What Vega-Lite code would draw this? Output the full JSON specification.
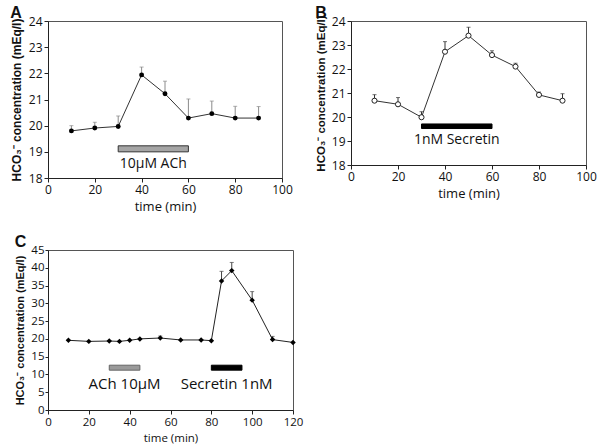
{
  "$schema": "https://vega.github.io/schema/vega-lite/v6.json",
  "background": "white",
  "padding": {"left": 9, "top": 4, "right": 0, "bottom": 0},
  "datasets": {
    "a": [
      {"t": 10, "v": 19.8, "e": 20.0},
      {"t": 20, "v": 19.91, "e": 20.13},
      {"t": 30, "v": 19.97, "e": 20.37},
      {"t": 40, "v": 21.94, "e": 22.24},
      {"t": 50, "v": 21.22, "e": 21.7},
      {"t": 60, "v": 20.29, "e": 21.02},
      {"t": 70, "v": 20.46, "e": 20.94},
      {"t": 80, "v": 20.29, "e": 20.74},
      {"t": 90, "v": 20.29, "e": 20.73}
    ],
    "aBar": [{"start": 30, "end": 60, "lo": 19.0, "hi": 19.23}],
    "aText": [{"t": 45, "v": 18.55, "label": "10μM ACh"}],
    "b": [
      {"t": 10, "v": 20.68, "e": 20.93},
      {"t": 20, "v": 20.53, "e": 20.81},
      {"t": 30, "v": 19.99, "e": 20.22},
      {"t": 40, "v": 22.72, "e": 23.14},
      {"t": 50, "v": 23.39, "e": 23.74},
      {"t": 60, "v": 22.58, "e": 22.76},
      {"t": 70, "v": 22.1, "e": 22.24},
      {"t": 80, "v": 20.92, "e": 21.04},
      {"t": 90, "v": 20.68, "e": 20.97}
    ],
    "bBar": [{"start": 30, "end": 60, "lo": 19.52, "hi": 19.71}],
    "bText": [{"t": 45, "v": 19.04, "label": "1nM Secretin"}],
    "c": [
      {"t": 10, "v": 19.6, "e": 19.6},
      {"t": 20, "v": 19.3, "e": 19.3},
      {"t": 30, "v": 19.4, "e": 19.4},
      {"t": 35, "v": 19.3, "e": 19.3},
      {"t": 40, "v": 19.6, "e": 19.6},
      {"t": 45, "v": 20.0, "e": 20.0},
      {"t": 55, "v": 20.25, "e": 20.8},
      {"t": 65, "v": 19.7, "e": 19.7},
      {"t": 75, "v": 19.7, "e": 19.7},
      {"t": 80, "v": 19.5, "e": 19.5},
      {"t": 85, "v": 36.3, "e": 39.0},
      {"t": 90, "v": 39.2, "e": 41.5},
      {"t": 100, "v": 30.9, "e": 33.3},
      {"t": 110, "v": 19.8, "e": 20.7},
      {"t": 120, "v": 19.0, "e": 19.0}
    ],
    "cBar": [
      {"start": 30, "end": 45, "lo": 11.2, "hi": 12.6, "agent": "ACh"},
      {"start": 80, "end": 95, "lo": 11.2, "hi": 12.6, "agent": "Secretin"}
    ],
    "cText": [
      {"t": 37.5, "v": 7.4, "label": "ACh 10μM"},
      {"t": 87.5, "v": 7.4, "label": "Secretin 1nM"}
    ]
  },
  "config": {
    "view": {"stroke": "#555", "strokeWidth": 1},
    "axis": {
      "grid": false,
      "domainColor": "#222",
      "tickColor": "#222",
      "tickSize": 4,
      "labelColor": "#111",
      "labelFont": "Open Sans",
      "labelFontSize": 12,
      "labelFlush": false,
      "labelOverlap": false,
      "titleColor": "#111"
    },
    "axisX": {"titleFont": "Open Sans", "titleFontWeight": "normal", "titleFontSize": 13, "titlePadding": 5},
    "axisY": {"titleFont": "Liberation Sans", "titleFontWeight": "bold", "titleFontSize": 12, "titlePadding": 5},
    "title": {"anchor": "start", "frame": "bounds", "font": "Liberation Sans", "fontSize": 16, "fontWeight": "bold", "color": "#111", "offset": -6}
  },
  "spacing": 19,
  "vconcat": [
    {
      "spacing": 69,
      "bounds": "flush",
      "hconcat": [
        {
          "title": {"text": "A", "offset": -6},
          "width": 234,
          "height": 157,
          "layer": [
            {
              "data": {"name": "aBar"},
              "mark": {"type": "rect", "fill": "#a5a5a5", "stroke": "#333", "strokeWidth": 1},
              "encoding": {
                "x": {"field": "start", "type": "quantitative", "scale": {"domain": [0, 100]}, "axis": {"title": "time (min)", "values": [0, 20, 40, 60, 80, 100], "labelOverlap": false}},
                "x2": {"field": "end"},
                "y": {"field": "lo", "type": "quantitative", "scale": {"domain": [18, 24]}, "axis": {"title": "HCO₃⁻ concentration (mEq/l)", "values": [18, 19, 20, 21, 22, 23, 24], "labelOverlap": false}},
                "y2": {"field": "hi"}
              }
            },
            {
              "data": {"name": "aText"},
              "mark": {"type": "text", "font": "Open Sans", "fontSize": 14, "color": "#111"},
              "encoding": {
                "x": {"field": "t", "type": "quantitative", "axis": {"title": "time (min)", "values": [0, 20, 40, 60, 80, 100], "labelOverlap": false}},
                "y": {"field": "v", "type": "quantitative", "axis": {"title": "HCO₃⁻ concentration (mEq/l)", "values": [18, 19, 20, 21, 22, 23, 24], "labelOverlap": false}},
                "text": {"field": "label"}
              }
            },
            {
              "data": {"name": "a"},
              "mark": {"type": "rule", "color": "#8a8a8a", "strokeWidth": 1},
              "encoding": {
                "x": {"field": "t", "type": "quantitative", "axis": {"title": "time (min)", "values": [0, 20, 40, 60, 80, 100], "labelOverlap": false}},
                "y": {"field": "v", "type": "quantitative", "axis": {"title": "HCO₃⁻ concentration (mEq/l)", "values": [18, 19, 20, 21, 22, 23, 24], "labelOverlap": false}},
                "y2": {"field": "e"}
              }
            },
            {
              "data": {"name": "a"},
              "mark": {"type": "tick", "orient": "horizontal", "size": 4, "thickness": 1, "color": "#8a8a8a"},
              "encoding": {
                "x": {"field": "t", "type": "quantitative", "axis": {"title": "time (min)", "values": [0, 20, 40, 60, 80, 100], "labelOverlap": false}},
                "y": {"field": "e", "type": "quantitative", "axis": {"title": "HCO₃⁻ concentration (mEq/l)", "values": [18, 19, 20, 21, 22, 23, 24], "labelOverlap": false}}
              }
            },
            {
              "data": {"name": "a"},
              "mark": {"type": "line", "color": "#333", "strokeWidth": 1},
              "encoding": {
                "x": {"field": "t", "type": "quantitative", "axis": {"title": "time (min)", "values": [0, 20, 40, 60, 80, 100], "labelOverlap": false}},
                "y": {"field": "v", "type": "quantitative", "axis": {"title": "HCO₃⁻ concentration (mEq/l)", "values": [18, 19, 20, 21, 22, 23, 24], "labelOverlap": false}}
              }
            },
            {
              "data": {"name": "a"},
              "mark": {"type": "point", "shape": "circle", "filled": true, "color": "#000", "size": 24, "opacity": 1},
              "encoding": {
                "x": {"field": "t", "type": "quantitative", "axis": {"title": "time (min)", "values": [0, 20, 40, 60, 80, 100], "labelOverlap": false}},
                "y": {"field": "v", "type": "quantitative", "axis": {"title": "HCO₃⁻ concentration (mEq/l)", "values": [18, 19, 20, 21, 22, 23, 24], "labelOverlap": false}}
              }
            }
          ]
        },
        {
          "title": {"text": "B", "offset": -6},
          "width": 235,
          "height": 144,
          "layer": [
            {
              "data": {"name": "bBar"},
              "mark": {"type": "rect", "fill": "#000", "stroke": "#000", "strokeWidth": 1},
              "encoding": {
                "x": {"field": "start", "type": "quantitative", "scale": {"domain": [0, 100]}, "axis": {"title": "time (min)", "values": [0, 20, 40, 60, 80, 100], "labelOverlap": false}},
                "x2": {"field": "end"},
                "y": {"field": "lo", "type": "quantitative", "scale": {"domain": [18, 24]}, "axis": {"title": "HCO₃⁻ concentration (mEq/l)", "values": [18, 19, 20, 21, 22, 23, 24], "labelOverlap": false, "titleFontSize": 11.5}},
                "y2": {"field": "hi"}
              }
            },
            {
              "data": {"name": "bText"},
              "mark": {"type": "text", "font": "Open Sans", "fontSize": 14, "color": "#111"},
              "encoding": {
                "x": {"field": "t", "type": "quantitative", "axis": {"title": "time (min)", "values": [0, 20, 40, 60, 80, 100], "labelOverlap": false}},
                "y": {"field": "v", "type": "quantitative", "axis": {"title": "HCO₃⁻ concentration (mEq/l)", "values": [18, 19, 20, 21, 22, 23, 24], "labelOverlap": false, "titleFontSize": 11.5}},
                "text": {"field": "label"}
              }
            },
            {
              "data": {"name": "b"},
              "mark": {"type": "rule", "color": "#333", "strokeWidth": 1},
              "encoding": {
                "x": {"field": "t", "type": "quantitative", "axis": {"title": "time (min)", "values": [0, 20, 40, 60, 80, 100], "labelOverlap": false}},
                "y": {"field": "v", "type": "quantitative", "axis": {"title": "HCO₃⁻ concentration (mEq/l)", "values": [18, 19, 20, 21, 22, 23, 24], "labelOverlap": false, "titleFontSize": 11.5}},
                "y2": {"field": "e"}
              }
            },
            {
              "data": {"name": "b"},
              "mark": {"type": "tick", "orient": "horizontal", "size": 4, "thickness": 1, "color": "#333"},
              "encoding": {
                "x": {"field": "t", "type": "quantitative", "axis": {"title": "time (min)", "values": [0, 20, 40, 60, 80, 100], "labelOverlap": false}},
                "y": {"field": "e", "type": "quantitative", "axis": {"title": "HCO₃⁻ concentration (mEq/l)", "values": [18, 19, 20, 21, 22, 23, 24], "labelOverlap": false, "titleFontSize": 11.5}}
              }
            },
            {
              "data": {"name": "b"},
              "mark": {"type": "line", "color": "#333", "strokeWidth": 1},
              "encoding": {
                "x": {"field": "t", "type": "quantitative", "axis": {"title": "time (min)", "values": [0, 20, 40, 60, 80, 100], "labelOverlap": false}},
                "y": {"field": "v", "type": "quantitative", "axis": {"title": "HCO₃⁻ concentration (mEq/l)", "values": [18, 19, 20, 21, 22, 23, 24], "labelOverlap": false, "titleFontSize": 11.5}}
              }
            },
            {
              "data": {"name": "b"},
              "mark": {"type": "point", "shape": "circle", "filled": false, "fill": "white", "stroke": "#222", "strokeWidth": 1, "size": 26, "opacity": 1},
              "encoding": {
                "x": {"field": "t", "type": "quantitative", "axis": {"title": "time (min)", "values": [0, 20, 40, 60, 80, 100], "labelOverlap": false}},
                "y": {"field": "v", "type": "quantitative", "axis": {"title": "HCO₃⁻ concentration (mEq/l)", "values": [18, 19, 20, 21, 22, 23, 24], "labelOverlap": false, "titleFontSize": 11.5}}
              }
            }
          ]
        }
      ]
    },
    {
      "title": {"text": "C", "offset": -6},
      "width": 245,
      "height": 160,
      "layer": [
        {
          "data": {"name": "cBar"},
          "mark": {"type": "rect", "strokeWidth": 1},
          "encoding": {
            "x": {"field": "start", "type": "quantitative", "scale": {"domain": [0, 120]}, "axis": {"title": "time (min)", "values": [0, 20, 40, 60, 80, 100, 120], "labelOverlap": false, "labelFontSize": 11.5, "titleFontSize": 11.5, "titlePadding": 5}},
            "x2": {"field": "end"},
            "y": {"field": "lo", "type": "quantitative", "scale": {"domain": [0, 45]}, "axis": {"title": "HCO₃⁻ concentration (mEq/l)", "values": [0, 5, 10, 15, 20, 25, 30, 35, 40, 45], "labelOverlap": false, "labelFontSize": 11.5, "titleFontSize": 11, "tickSize": 3, "labelPadding": 1}},
            "y2": {"field": "hi"},
            "fill": {"field": "agent", "type": "nominal", "scale": {"domain": ["ACh", "Secretin"], "range": ["#9a9a9a", "#000000"]}, "legend": null},
            "stroke": {"field": "agent", "type": "nominal", "scale": {"domain": ["ACh", "Secretin"], "range": ["#666666", "#000000"]}, "legend": null}
          }
        },
        {
          "data": {"name": "cText"},
          "mark": {"type": "text", "font": "Open Sans", "fontSize": 15, "color": "#111"},
          "encoding": {
            "x": {"field": "t", "type": "quantitative", "axis": {"title": "time (min)", "values": [0, 20, 40, 60, 80, 100, 120], "labelOverlap": false, "labelFontSize": 11.5, "titleFontSize": 11.5, "titlePadding": 5}},
            "y": {"field": "v", "type": "quantitative", "axis": {"title": "HCO₃⁻ concentration (mEq/l)", "values": [0, 5, 10, 15, 20, 25, 30, 35, 40, 45], "labelOverlap": false, "labelFontSize": 11.5, "titleFontSize": 11, "tickSize": 3, "labelPadding": 1}},
            "text": {"field": "label"}
          }
        },
        {
          "data": {"name": "c"},
          "mark": {"type": "rule", "color": "#444", "strokeWidth": 1},
          "encoding": {
            "x": {"field": "t", "type": "quantitative", "axis": {"title": "time (min)", "values": [0, 20, 40, 60, 80, 100, 120], "labelOverlap": false, "labelFontSize": 11.5, "titleFontSize": 11.5, "titlePadding": 5}},
            "y": {"field": "v", "type": "quantitative", "axis": {"title": "HCO₃⁻ concentration (mEq/l)", "values": [0, 5, 10, 15, 20, 25, 30, 35, 40, 45], "labelOverlap": false, "labelFontSize": 11.5, "titleFontSize": 11, "tickSize": 3, "labelPadding": 1}},
            "y2": {"field": "e"}
          }
        },
        {
          "data": {"name": "c"},
          "mark": {"type": "tick", "orient": "horizontal", "size": 4, "thickness": 1, "color": "#444"},
          "encoding": {
            "x": {"field": "t", "type": "quantitative", "axis": {"title": "time (min)", "values": [0, 20, 40, 60, 80, 100, 120], "labelOverlap": false, "labelFontSize": 11.5, "titleFontSize": 11.5, "titlePadding": 5}},
            "y": {"field": "e", "type": "quantitative", "axis": {"title": "HCO₃⁻ concentration (mEq/l)", "values": [0, 5, 10, 15, 20, 25, 30, 35, 40, 45], "labelOverlap": false, "labelFontSize": 11.5, "titleFontSize": 11, "tickSize": 3, "labelPadding": 1}}
          }
        },
        {
          "data": {"name": "c"},
          "mark": {"type": "line", "color": "#222", "strokeWidth": 1},
          "encoding": {
            "x": {"field": "t", "type": "quantitative", "axis": {"title": "time (min)", "values": [0, 20, 40, 60, 80, 100, 120], "labelOverlap": false, "labelFontSize": 11.5, "titleFontSize": 11.5, "titlePadding": 5}},
            "y": {"field": "v", "type": "quantitative", "axis": {"title": "HCO₃⁻ concentration (mEq/l)", "values": [0, 5, 10, 15, 20, 25, 30, 35, 40, 45], "labelOverlap": false, "labelFontSize": 11.5, "titleFontSize": 11, "tickSize": 3, "labelPadding": 1}}
          }
        },
        {
          "data": {"name": "c"},
          "mark": {"type": "point", "shape": "diamond", "filled": true, "color": "#000", "size": 30, "opacity": 1},
          "encoding": {
            "x": {"field": "t", "type": "quantitative", "axis": {"title": "time (min)", "values": [0, 20, 40, 60, 80, 100, 120], "labelOverlap": false, "labelFontSize": 11.5, "titleFontSize": 11.5, "titlePadding": 5}},
            "y": {"field": "v", "type": "quantitative", "axis": {"title": "HCO₃⁻ concentration (mEq/l)", "values": [0, 5, 10, 15, 20, 25, 30, 35, 40, 45], "labelOverlap": false, "labelFontSize": 11.5, "titleFontSize": 11, "tickSize": 3, "labelPadding": 1}}
          }
        }
      ]
    }
  ]
}
